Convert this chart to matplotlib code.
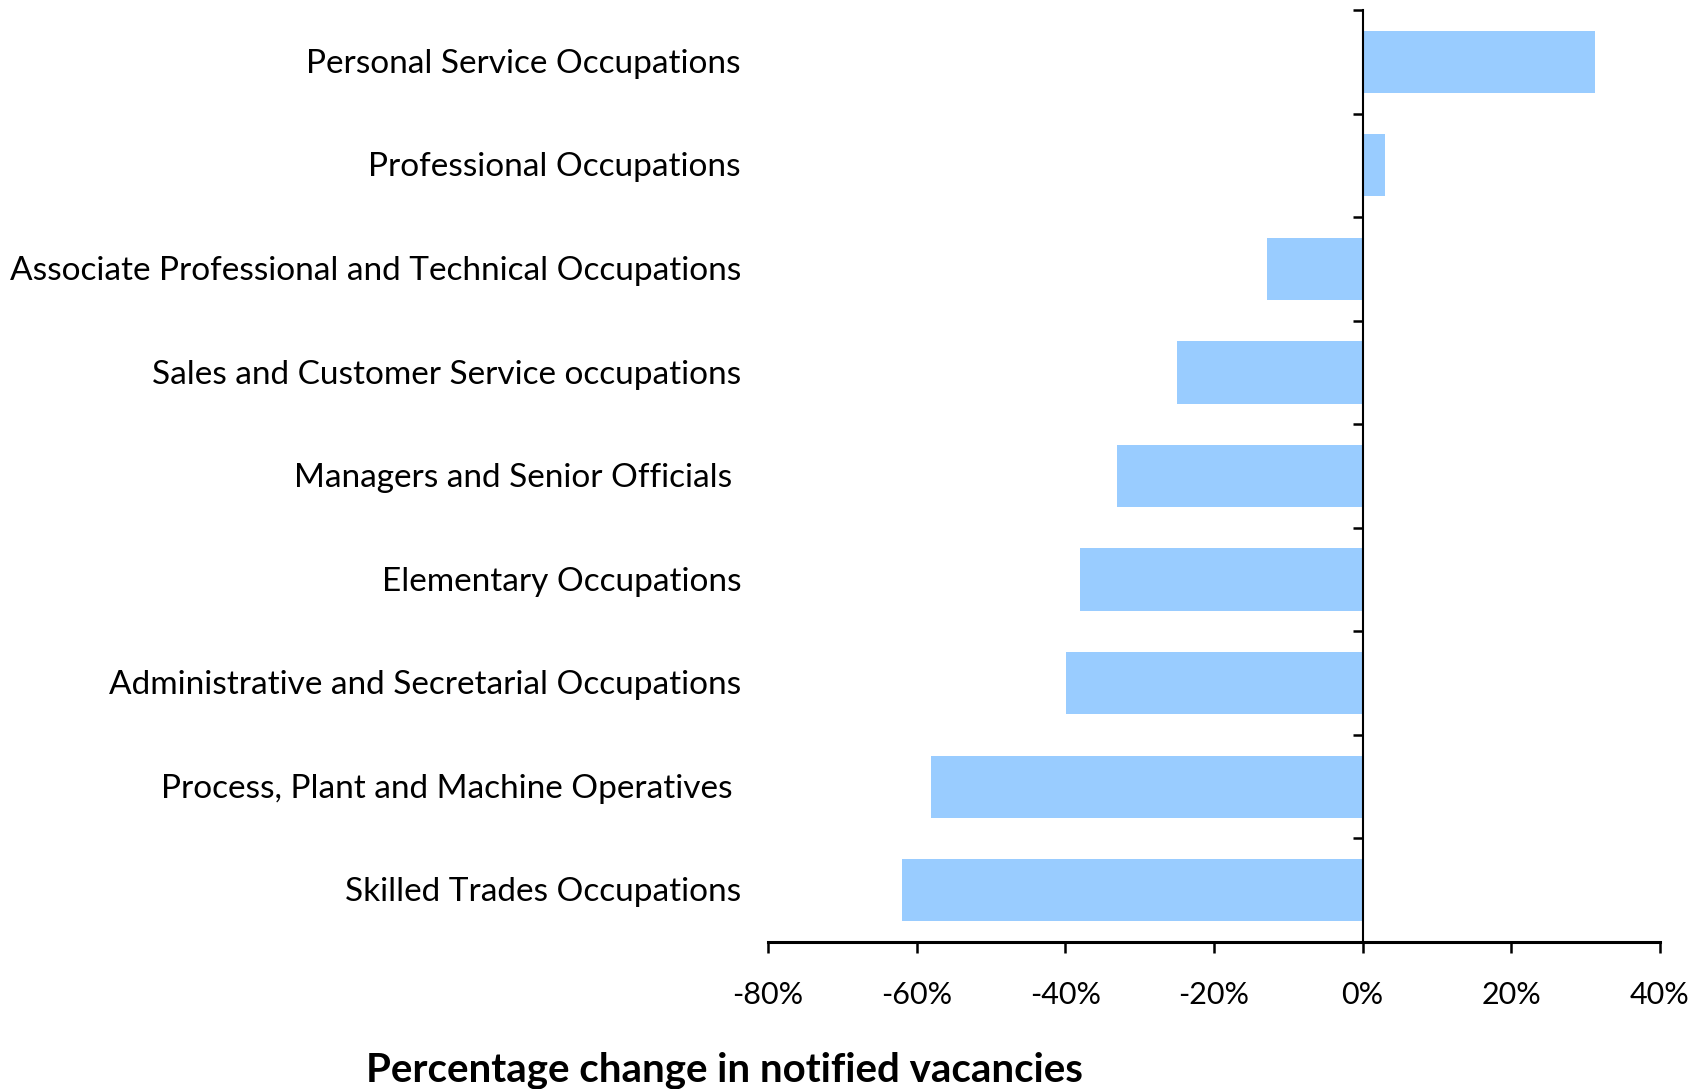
import numpy as np
import matplotlib
matplotlib.use("Agg")
import matplotlib.pyplot as plt
import matplotlib.transforms as mtransforms
from matplotlib.ticker import FuncFormatter

# top to bottom as in the chart
occupations = [
    "Personal Service Occupations",
    "Professional Occupations",
    "Associate Professional and Technical Occupations",
    "Sales and Customer Service occupations",
    "Managers and Senior Officials ",
    "Elementary Occupations",
    "Administrative and Secretarial Occupations",
    "Process, Plant and Machine Operatives ",
    "Skilled Trades Occupations",
]
pct_change = [31.2, 3.0, -12.9, -25.0, -33.0, -38.0, -39.9, -58.1, -62.0]

x_ticks = [-80, -60, -40, -20, 0, 20, 40]

plt.rcParams['font.family'] = ['Lato', 'DejaVu Sans']

fig = plt.figure(figsize=(17.05, 10.89), dpi=100)
ax = fig.add_axes([0.4504, 0.135, 0.5232, 0.8558])

n = len(occupations)
ypos = np.arange(n)
ax.barh(ypos, pct_change, height=0.6, color="#99CCFF", zorder=2)

ax.set_xlim(-80, 40)
ax.set_ylim(n - 0.5, -0.5)

# y axis sits at zero, ticks between categories
ax.spines['left'].set_position(('data', 0))
ax.spines['right'].set_visible(False)
ax.spines['top'].set_visible(False)
ax.spines['left'].set_linewidth(1.5)
ax.spines['bottom'].set_linewidth(2.2)
ax.set_yticks(np.arange(n + 1) - 0.5)
ax.set_yticklabels([])
ax.tick_params(axis='y', direction='out', length=7, width=1.8)

ax.set_xticks(x_ticks)
ax.xaxis.set_major_formatter(FuncFormatter(lambda v, p: f"{int(v)}%"))
ax.tick_params(axis='x', direction='out', length=8, width=1.8, pad=20,
               labelsize=22)

# category labels on the far left of the axes
trans = mtransforms.blended_transform_factory(fig.transFigure, ax.transData)
for y, name in zip(ypos, occupations):
    ax.text(741 / 1705, y + 0.02, name, transform=trans, ha='right', va='center',
            fontsize=24)

fig.text(724 / 1705, 1 - 1070 / 1089, "Percentage change in notified vacancies",
         ha='center', va='center', fontsize=29, fontweight='bold')

fig.savefig("out.png", dpi=100)
